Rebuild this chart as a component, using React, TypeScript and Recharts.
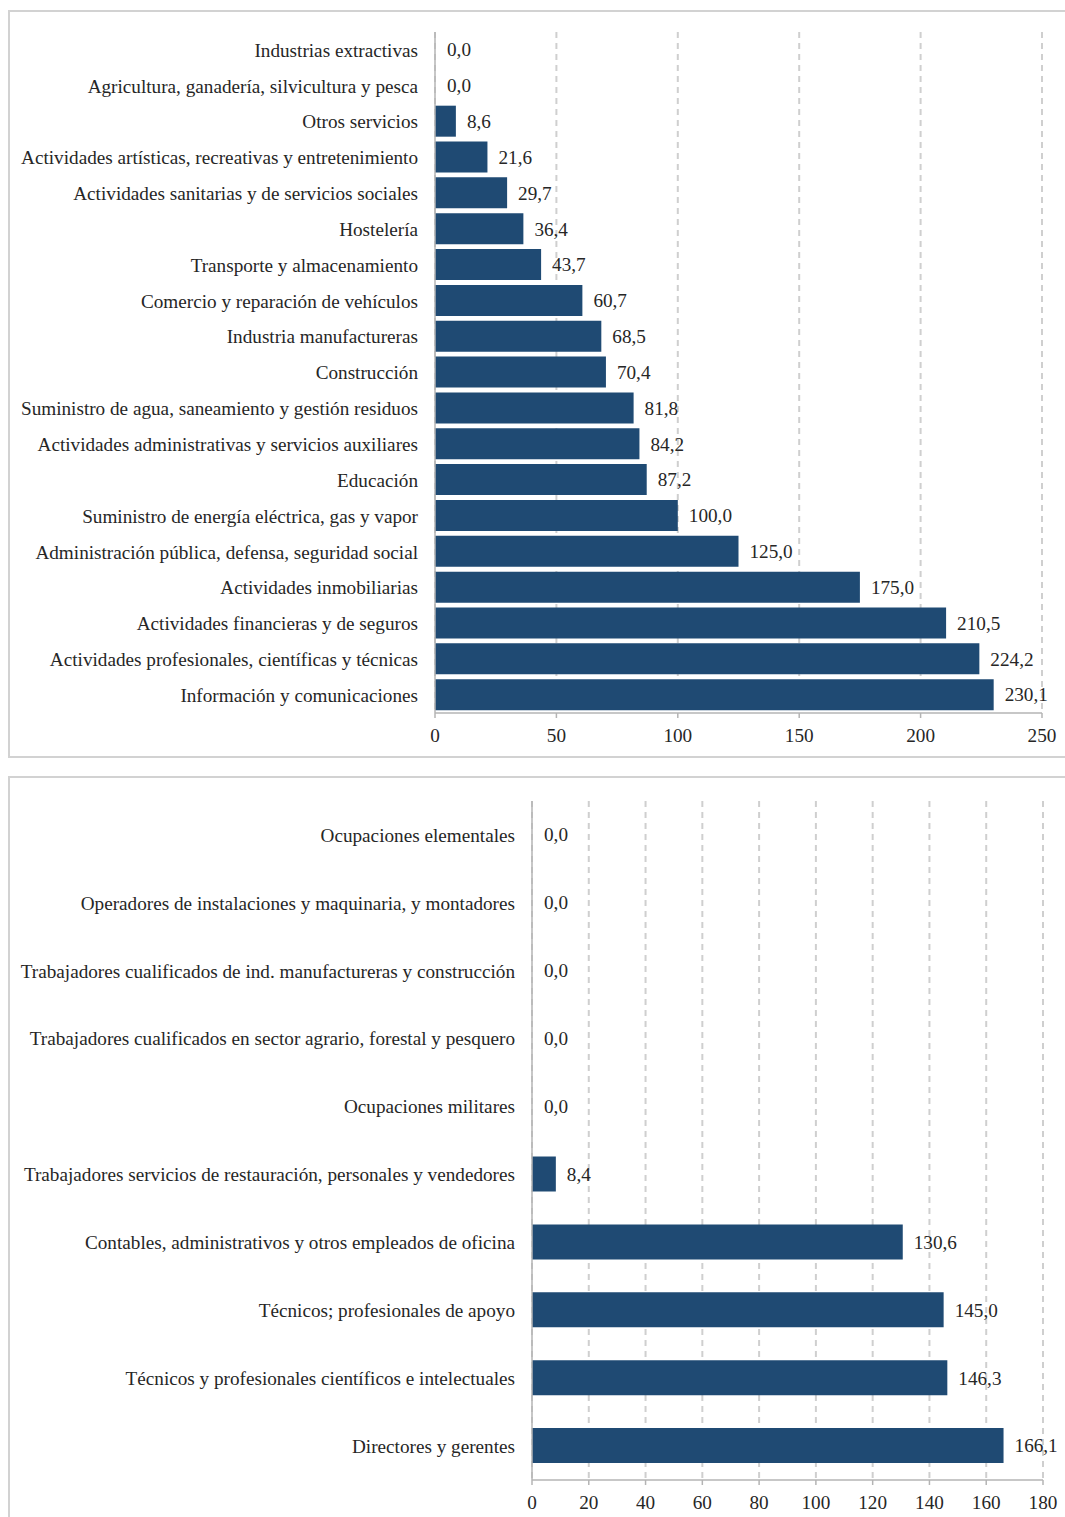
import { Bar, BarChart, CartesianGrid, Cell, LabelList, XAxis, YAxis } from "recharts";

// sectores de actividad (de arriba abajo)
const sectores = [
  "Industrias extractivas",
  "Agricultura, ganadería, silvicultura y pesca",
  "Otros servicios",
  "Actividades artísticas, recreativas y entretenimiento",
  "Actividades sanitarias y de servicios sociales",
  "Hostelería",
  "Transporte y almacenamiento",
  "Comercio y reparación de vehículos",
  "Industria manufactureras",
  "Construcción",
  "Suministro de agua, saneamiento y gestión residuos",
  "Actividades administrativas y servicios auxiliares",
  "Educación",
  "Suministro de energía eléctrica, gas y vapor",
  "Administración pública, defensa, seguridad social",
  "Actividades inmobiliarias",
  "Actividades financieras y de seguros",
  "Actividades profesionales, científicas y técnicas",
  "Información y comunicaciones",
];
const valoresSector = [
  0, 0, 8.6, 21.6, 29.7, 36.4, 43.7, 60.7, 68.5, 70.4, 81.8, 84.2, 87.2, 100,
  125, 175, 210.5, 224.2, 230.1,
];
const ticksSector = [0, 50, 100, 150, 200, 250];

// ocupaciones
const ocupaciones = [
  "Ocupaciones elementales",
  "Operadores de instalaciones y maquinaria, y montadores",
  "Trabajadores cualificados de ind. manufactureras y construcción",
  "Trabajadores cualificados en sector agrario, forestal y pesquero",
  "Ocupaciones militares",
  "Trabajadores servicios de restauración, personales y vendedores",
  "Contables, administrativos y otros empleados de oficina",
  "Técnicos; profesionales de apoyo",
  "Técnicos y profesionales científicos e intelectuales",
  "Directores y gerentes",
];
const valoresOcupacion = [0, 0, 0, 0, 0, 8.4, 130.6, 145, 146.3, 166.1];
const ticksOcupacion = [0, 20, 40, 60, 80, 100, 120, 140, 160, 180];

const BAR = "#1f4a73";
const AXIS = "#b4b4b4";
const GRID = "#cfcfcf";
const TEXT = "#262626";
const FONT = "'Liberation Serif', 'Times New Roman', serif";
const FS = 19.2;

const fmt = (v: any) => Number(v).toFixed(1).replace(".", ",");

const dataSector = sectores.map((name, i) => ({ name, value: valoresSector[i] }));
const dataOcupacion = ocupaciones.map((name, i) => ({ name, value: valoresOcupacion[i] }));

const tickStyle = { fill: TEXT, fontSize: FS, fontFamily: FONT };

const panel: React.CSSProperties = {
  position: "absolute",
  left: 8,
  width: 1070,
  border: "2px solid #d2d2d2",
  boxSizing: "border-box",
  background: "#fff",
};

// las barras con valor 0 se dibujan con 1px transparente para que salga la etiqueta "0,0"
function Panel({ data, ticks, max, yWidth, barSize, width, height, margin }: any) {
  return (
    <BarChart
      width={width}
      height={height}
      data={data}
      layout="vertical"
      barSize={barSize}
      margin={margin}
    >
      <CartesianGrid horizontal={false} stroke={GRID} strokeWidth={2} strokeDasharray="6 5" />
      <XAxis
        type="number"
        domain={[0, max]}
        ticks={ticks}
        stroke={AXIS}
        strokeWidth={1.5}
        tickSize={5}
        tickMargin={10}
        height={32}
        tick={tickStyle}
        interval={0}
      />
      <YAxis
        type="category"
        dataKey="name"
        width={yWidth}
        stroke={AXIS}
        strokeWidth={1.5}
        tickLine={false}
        tickSize={15}
        tickMargin={2}
        tick={tickStyle}
        interval={0}
      />
      <Bar dataKey="value" fill={BAR} minPointSize={1} isAnimationActive={false}>
        {data.map((d: any) => (
          <Cell key={d.name} fill={d.value === 0 ? "none" : BAR} />
        ))}
        <LabelList
          dataKey="value"
          position="right"
          offset={11}
          formatter={fmt}
          style={{ fill: TEXT, fontSize: FS, fontFamily: FONT }}
        />
      </Bar>
    </BarChart>
  );
}

export default function App() {
  return (
    <div style={{ position: "fixed", left: 0, top: 0, width: 1065, height: 1517, overflow: "hidden", background: "#fff" }}>
      <div style={{ ...panel, top: 10, height: 748 }}>
        <Panel
          data={dataSector}
          ticks={ticksSector}
          max={250}
          yWidth={425}
          barSize={31}
          width={1066}
          height={744}
          margin={{ top: 20, right: 34, bottom: 11, left: 0 }}
        />
      </div>
      <div style={{ ...panel, top: 776, height: 760 }}>
        <Panel
          data={dataOcupacion}
          ticks={ticksOcupacion}
          max={180}
          yWidth={522}
          barSize={35}
          width={1066}
          height={740}
          margin={{ top: 23, right: 33, bottom: 6, left: 0 }}
        />
      </div>
    </div>
  );
}
